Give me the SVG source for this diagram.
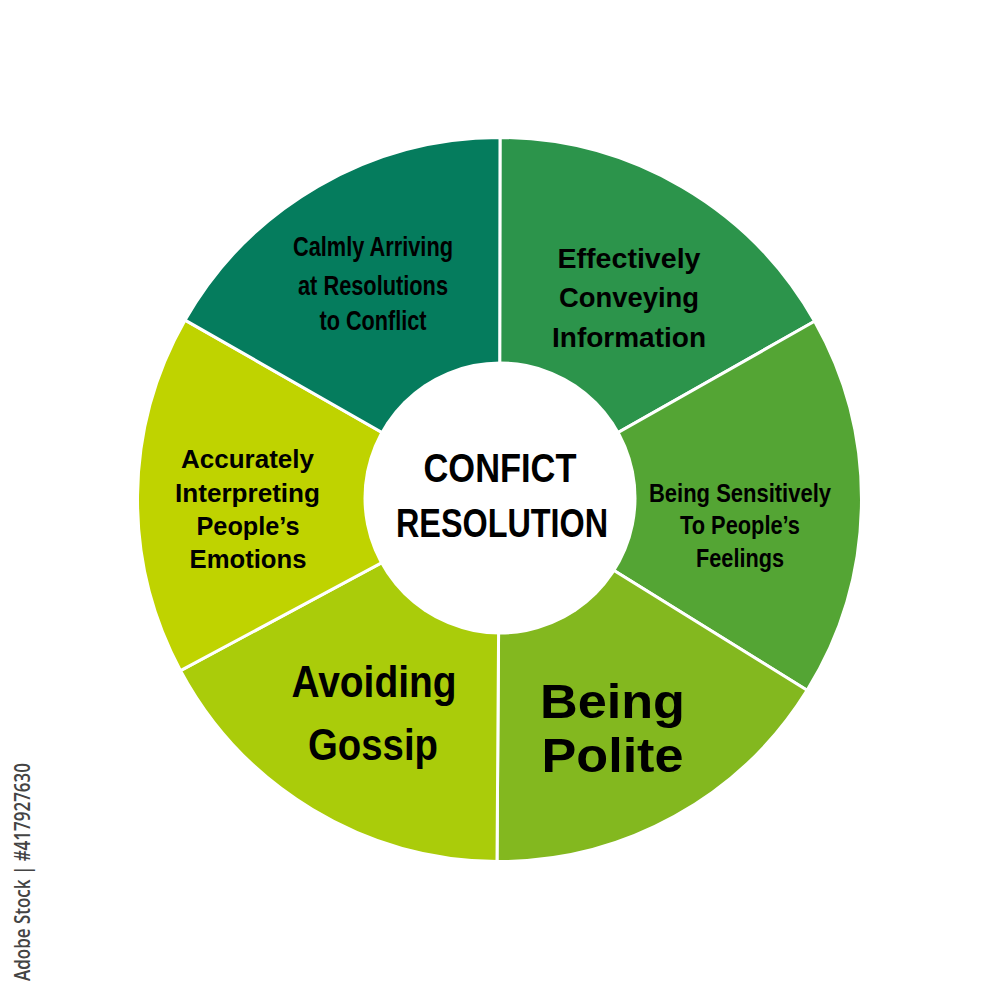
<svg xmlns="http://www.w3.org/2000/svg" width="1000" height="1000" viewBox="0 0 1000 1000">
<style>
.seg{stroke:#ffffff;stroke-width:3;stroke-linejoin:round}
.t{font-family:"Liberation Sans",Arial,sans-serif;font-weight:bold;fill:#000;text-anchor:middle}
.wm{font-family:"Open Sans","Liberation Sans",sans-serif;font-weight:600;fill:#444444}
</style>
<rect width="1000" height="1000" fill="#ffffff"/>
<g id="segments">
<g id="seg-top-right"><path class="seg" fill="#2C944B" d="M499.5 499.5 L500 137.5 A362 362 0 0 1 814.6 321.3 Z"/></g>
<g id="seg-right"><path class="seg" fill="#54A534" d="M499.5 499.5 L814.6 321.3 A362 362 0 0 1 807.1 690.3 Z"/></g>
<g id="seg-bottom-right"><path class="seg" fill="#83B81F" d="M499.5 499.5 L807.1 690.3 A362 362 0 0 1 497 861.5 Z"/></g>
<g id="seg-bottom-left"><path class="seg" fill="#AACC0A" d="M499.5 499.5 L497 861.5 A362 362 0 0 1 180.5 670.6 Z"/></g>
<g id="seg-left"><path class="seg" fill="#BFD300" d="M499.5 499.5 L180.5 670.6 A362 362 0 0 1 185.1 320.1 Z"/></g>
<g id="seg-top-left"><path class="seg" fill="#057C5D" d="M499.5 499.5 L185.1 320.1 A362 362 0 0 1 500 137.5 Z"/></g>
</g>
<g id="center">
<circle cx="500" cy="498" r="136.5" fill="#ffffff"/>
<text class="t" font-size="40" x="500" y="482" textLength="153" lengthAdjust="spacingAndGlyphs">CONFICT</text>
<text class="t" font-size="40" x="502" y="537" textLength="212" lengthAdjust="spacingAndGlyphs">RESOLUTION</text>
</g>
<g id="label-calmly">
<text class="t" font-size="27" x="373" y="256" textLength="160" lengthAdjust="spacingAndGlyphs">Calmly Arriving</text>
<text class="t" font-size="27" x="373" y="295" textLength="150" lengthAdjust="spacingAndGlyphs">at Resolutions</text>
<text class="t" font-size="27" x="373" y="330" textLength="107" lengthAdjust="spacingAndGlyphs">to Conflict</text>
</g>
<g id="label-effectively">
<text class="t" font-size="28" x="629" y="268" textLength="143" lengthAdjust="spacingAndGlyphs">Effectively</text>
<text class="t" font-size="28" x="629" y="307" textLength="140" lengthAdjust="spacingAndGlyphs">Conveying</text>
<text class="t" font-size="28" x="629" y="347" textLength="154" lengthAdjust="spacingAndGlyphs">Information</text>
</g>
<g id="label-sensitively">
<text class="t" font-size="26" x="740" y="502" textLength="182" lengthAdjust="spacingAndGlyphs">Being Sensitively</text>
<text class="t" font-size="26" x="740" y="534" textLength="120" lengthAdjust="spacingAndGlyphs">To People’s</text>
<text class="t" font-size="26" x="740" y="567" textLength="88" lengthAdjust="spacingAndGlyphs">Feelings</text>
</g>
<g id="label-accurately">
<text class="t" font-size="25.5" x="247.5" y="468" textLength="133" lengthAdjust="spacingAndGlyphs">Accurately</text>
<text class="t" font-size="25.5" x="247.5" y="502" textLength="145" lengthAdjust="spacingAndGlyphs">Interpreting</text>
<text class="t" font-size="25.5" x="248" y="535" textLength="103" lengthAdjust="spacingAndGlyphs">People’s</text>
<text class="t" font-size="25.5" x="248" y="568" textLength="117" lengthAdjust="spacingAndGlyphs">Emotions</text>
</g>
<g id="label-gossip">
<text class="t" font-size="44" x="374" y="697" textLength="165" lengthAdjust="spacingAndGlyphs">Avoiding</text>
<text class="t" font-size="44" x="373" y="760" textLength="130" lengthAdjust="spacingAndGlyphs">Gossip</text>
</g>
<g id="label-polite">
<text class="t" font-size="49" x="612.5" y="718" textLength="145" lengthAdjust="spacingAndGlyphs">Being</text>
<text class="t" font-size="49" x="612.5" y="772" textLength="142" lengthAdjust="spacingAndGlyphs">Polite</text>
</g>
<g id="watermark">
<text class="wm" font-size="21" transform="translate(30,981) rotate(-90)" x="0" y="0" textLength="218" lengthAdjust="spacingAndGlyphs">Adobe Stock | #417927630</text>
</g>
</svg>
